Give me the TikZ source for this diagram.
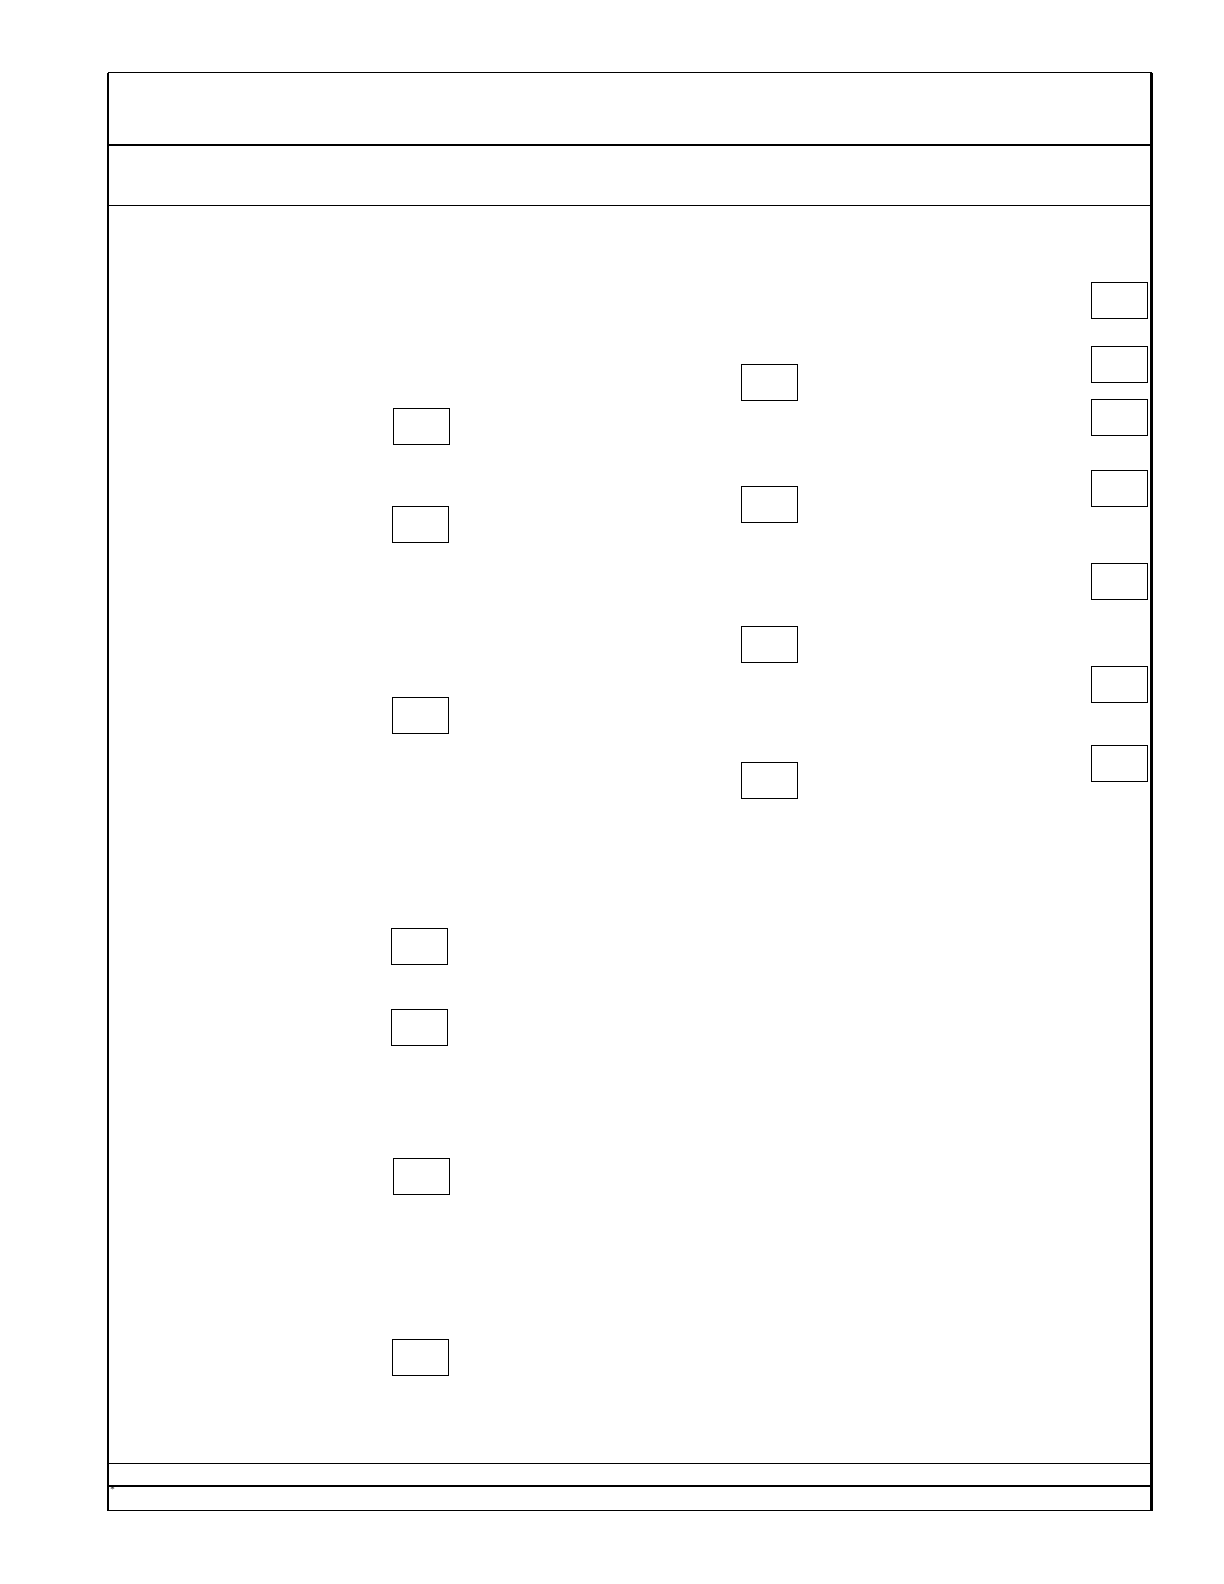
\documentclass[tikz,border=0pt]{standalone}
\usepackage{tikz}
\usetikzlibrary{positioning}

\begin{document}
\begin{tikzpicture}[x=0.5pt,y=-0.5pt,
                entrybox/.style={draw,line width=0.5pt,inner sep=0pt,minimum width=28pt,minimum height=18pt},
                frameline/.style={line width=0.75pt},
                frameside/.style={line width=1.3pt}]
                \useasboundingbox (0,0) rectangle (1224,1584);
                % form frame and rules
                \draw[frameline] (108,72.7) -- (1151.5,72.7);
                \draw[frameline] (108,1510.7) -- (1151.5,1510.7);
                \draw[frameside] (108,72.7) -- (108,1510.7);
                \draw[frameside] (1151.5,72.7) -- (1151.5,1510.7);
                \draw[frameline] (108,145) -- (1151.5,145);
                \draw[frameline] (108,205.7) -- (1151.5,205.7);
                \draw[line width=0.6pt] (108,1463.3) -- (1151.5,1463.3);
                \draw[line width=0.6pt] (108,1486) -- (1151.5,1486);
                \node[anchor=north west,inner sep=0pt,font=\fontsize{4}{4}\selectfont] (mark) at (109.5,1486.5) {*};
                % left column
                \node[entrybox] (a_1) at (421,426) {};
                \node[entrybox] (a_2) at (420,524) {};
                \node[entrybox] (a_3) at (420,715.8) {};
                \node[entrybox] (a_4) at (419,946) {};
                \node[entrybox] (a_5) at (419,1027) {};
                \node[entrybox] (a_6) at (421,1176.4) {};
                \node[entrybox] (a_7) at (420,1357) {};
                % middle column
                \node[entrybox] (b_1) at (769,382.6) {};
                \node[entrybox] (b_2) at (769,504.8) {};
                \node[entrybox] (b_3) at (769,644.1) {};
                \node[entrybox] (b_4) at (769,780.5) {};
                % right column
                \node[entrybox] (c_1) at (1119,300.8) {};
                \node[entrybox] (c_2) at (1119,364.4) {};
                \node[entrybox] (c_3) at (1119,417.9) {};
                \node[entrybox] (c_4) at (1119,488.6) {};
                \node[entrybox] (c_5) at (1119,581.5) {};
                \node[entrybox] (c_6) at (1119,684.5) {};
                \node[entrybox] (c_7) at (1119,763.3) {};
            \end{tikzpicture}
\end{document}
